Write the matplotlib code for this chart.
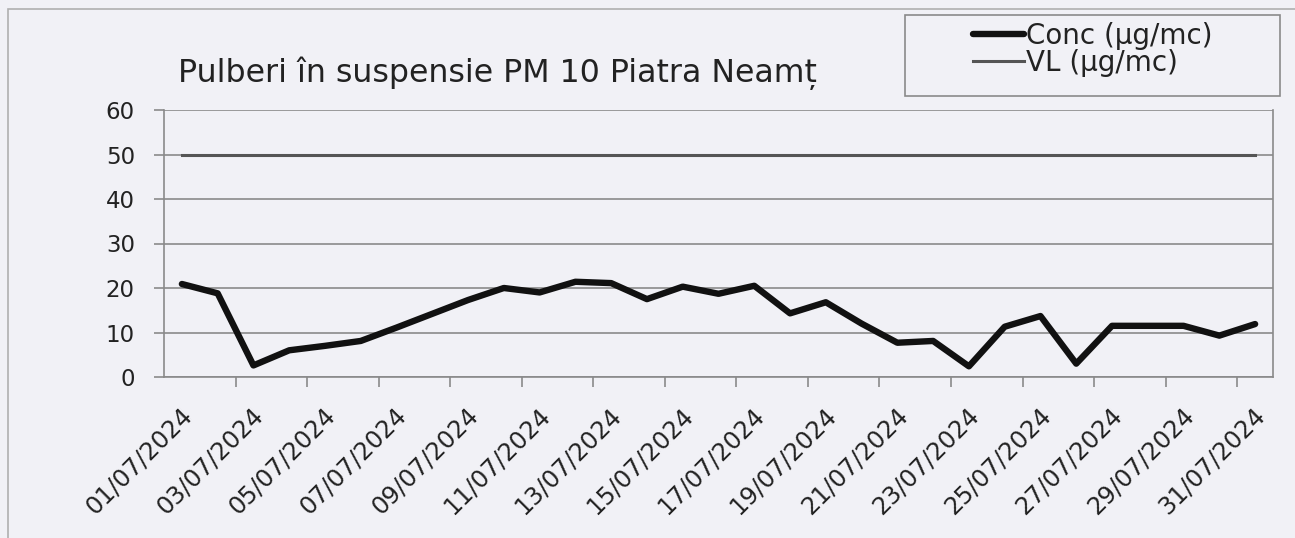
import matplotlib.pyplot as plt
import matplotlib.transforms as mtransforms
from matplotlib.patches import Rectangle

plt.rcParams['font.family'] = ['DejaVu Sans']

# date zilnice, iulie 2024
zile = [f"{d:02d}/07/2024" for d in range(1, 32)]
conc = [20.9, 18.8, 2.6, 6.0, 7.0, 8.1, 11.1, 14.2, 17.3, 20.0, 19.0,
        21.4, 21.1, 17.5, 20.3, 18.7, 20.5, 14.3, 16.8, 12.0, 7.7, 8.1,
        2.4, 11.3, 13.7, 3.0, 11.5, 11.5, 11.5, 9.3, 11.9]
vl = [50] * 31
y_ticks = [0, 10, 20, 30, 40, 50, 60]

fundal = '#f1f1f6'
gri = '#8a8a8a'

fig = plt.figure(figsize=(12.95, 5.38), dpi=100, facecolor=fundal)
ax = fig.add_axes([164 / 1295, 1 - 377 / 538, 1109 / 1295, 267 / 538])
ax.set_facecolor(fundal)

x = list(range(len(zile)))
l_conc, = ax.plot(x, conc, color='#111111', lw=4.6, solid_capstyle='round',
                  solid_joinstyle='round', zorder=4)
l_vl, = ax.plot(x, vl, color='#555555', lw=2.2, zorder=3)

ax.set_xlim(-0.5, len(zile) - 0.5)
ax.set_ylim(0, 60)
ax.set_yticks(y_ticks)
ax.yaxis.grid(True, color=gri, lw=1.2)
ax.set_axisbelow(True)

ax.set_xticks(x[::2])
ax.set_xticklabels(zile[::2], rotation=45, ha='right', va='top',
                   rotation_mode='anchor', fontsize=17.5, color='#222222')
ax.set_xticks([i + 1.5 for i in range(0, 30, 2)], minor=True)
ax.tick_params(axis='x', which='major', length=0, pad=19)
ax.tick_params(axis='x', which='minor', length=7, color=gri, width=1.2)
ax.tick_params(axis='y', length=7, color=gri, width=1.2, pad=14,
               labelsize=16.5, labelcolor='#222222')
offset = mtransforms.ScaledTranslation(-2 / 100, 0, fig.dpi_scale_trans)
for lbl in ax.get_xticklabels():
    lbl.set_transform(lbl.get_transform() + offset)

for s in ax.spines.values():
    s.set_color(gri)
    s.set_linewidth(1.2)
ax.spines['top'].set_visible(False)

fig.text(178 / 1295, 1 - 82 / 538, 'Pulberi în suspensie PM 10 Piatra Neamț',
         fontsize=22.8, va='baseline', ha='left', color='#222222')

# caseta legendei
fig.patches.append(Rectangle((905 / 1295, 1 - 96 / 538), 375 / 1295, 81 / 538,
                             transform=fig.transFigure, fill=False,
                             edgecolor=gri, lw=1.2))
fig.legend([l_conc, l_vl], ['Conc (µg/mc)', 'VL (µg/mc)'],
           loc='upper left', bbox_to_anchor=(973 / 1295, 1 - 22 / 538),
           frameon=False, fontsize=20, handlelength=1.85, handletextpad=0.05,
           borderpad=0, borderaxespad=0, labelspacing=-0.05,
           labelcolor='#222222')

# chenarul exterior
fig.patches.append(Rectangle((8 / 1295, -0.05), 1.1, 1 - 9 / 538 + 0.05,
                             transform=fig.transFigure, fill=False,
                             edgecolor='#b0b0b0', lw=1.2))

fig.savefig('out.png', dpi=100, facecolor=fundal)
